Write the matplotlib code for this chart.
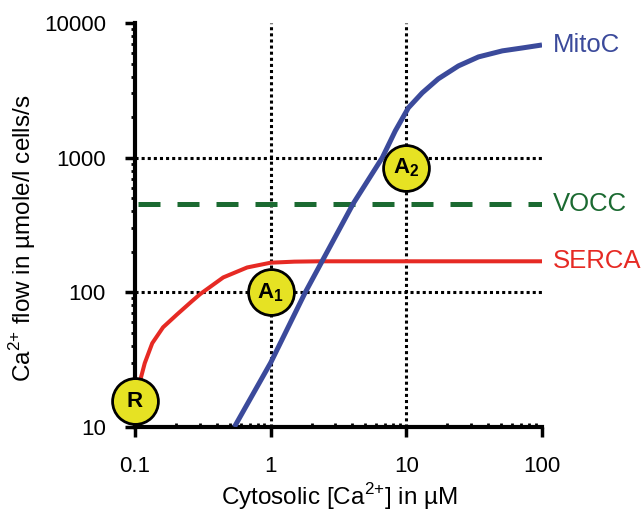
import matplotlib
matplotlib.use("Agg")
import matplotlib.pyplot as plt
from matplotlib.ticker import FixedLocator, LogLocator, NullFormatter

plt.rcParams['font.family'] = ['Liberation Sans', 'DejaVu Sans']
plt.rcParams['mathtext.fontset'] = 'custom'
plt.rcParams['mathtext.rm'] = 'Liberation Sans'
plt.rcParams['mathtext.bf'] = 'Liberation Sans:bold'

# values (log-log)
serca_x = [0.1, 0.109, 0.118, 0.134, 0.161, 0.204, 0.263, 0.302, 0.447, 0.671, 1.0, 1.5, 2.3, 5, 10, 30, 100]
serca_y = [16, 22, 29.8, 41.9, 55, 68.5, 86, 97, 129, 153, 166, 169, 170, 170, 170, 170, 170]

mito_x = [0.54, 1.0, 1.8, 4.06, 6.65, 8.3, 10.35, 13.1, 17.2, 24.2, 34, 51, 71.8, 100]
mito_y = [10, 30, 100, 456, 1000, 1585, 2345, 3030, 3850, 4800, 5600, 6210, 6530, 6870]

vocc_x = [0.105, 100]
vocc_y = [456, 456]

point_names = ['R', r'A$_\mathbf{1}$', r'A$_\mathbf{2}$']
point_x = [0.1, 1, 10]
point_y = [15.5, 100, 843]

x_ticks = [0.1, 1, 10, 100]
x_tick_labels = ['0.1', '1', '10', '100']
y_ticks = [10, 100, 1000, 10000]
y_tick_labels = ['10', '100', '1000', '10000']
grid_x = [1, 10]
grid_y = [100, 1000]

red = '#E62A24'
blue = '#3B4A9B'
green = '#1B6A31'
yellow = '#E6E223'

fig = plt.figure(figsize=(6.43, 5.13), dpi=100)
ax = fig.add_axes([135 / 643, 86 / 513, 407 / 643, 404 / 513])
ax.set_xscale('log')
ax.set_yscale('log')
ax.set_xlim(0.1, 100)
ax.set_ylim(10, 10000)

for gx in grid_x:
    ax.plot([gx, gx], [10, 10000], color='black', lw=2.2, ls=(0, (1, 1)), zorder=1)
for gy in grid_y:
    ax.plot([0.1, 100], [gy, gy], color='black', lw=2.2, ls=(0, (1, 1)), zorder=1)

ax.plot(vocc_x, vocc_y, color=green, lw=3.6, ls=(0, (4.4, 3.4)), zorder=2)
ax.plot(serca_x, serca_y, color=red, lw=2.9, zorder=3, solid_capstyle='butt', solid_joinstyle='round')
ax.plot(mito_x, mito_y, color=blue, lw=3.6, zorder=3, solid_capstyle='butt', solid_joinstyle='round')

ax.plot(point_x, point_y, 'o', ms=33, mfc=yellow, mec='black', mew=2, zorder=5, clip_on=False)
for name, px, py in zip(point_names, point_x, point_y):
    ax.text(px, py, name, ha='center', va='center', fontsize=16, fontweight='bold',
            zorder=6, clip_on=False)

ax.annotate('MitoC', (100, mito_y[-1]), xytext=(8, 0), textcoords='offset points',
            color=blue, fontsize=18.5, va='center', annotation_clip=False)
ax.annotate('VOCC', (100, vocc_y[-1]), xytext=(8, 0), textcoords='offset points',
            color=green, fontsize=18.5, va='center', annotation_clip=False)
ax.annotate('SERCA', (100, serca_y[-1]), xytext=(8, 0), textcoords='offset points',
            color=red, fontsize=18.5, va='center', annotation_clip=False)

for side in ['top', 'right']:
    ax.spines[side].set_visible(False)
for side in ['left', 'bottom']:
    ax.spines[side].set_linewidth(3)

ax.xaxis.set_major_locator(FixedLocator(x_ticks))
ax.set_xticklabels(x_tick_labels)
ax.yaxis.set_major_locator(FixedLocator(y_ticks))
ax.set_yticklabels(y_tick_labels)
ax.xaxis.set_minor_locator(LogLocator(base=10, subs=range(2, 10)))
ax.yaxis.set_minor_locator(LogLocator(base=10, subs=range(2, 10)))
ax.xaxis.set_minor_formatter(NullFormatter())
ax.yaxis.set_minor_formatter(NullFormatter())
ax.tick_params(which='major', direction='out', length=7, width=2.5, labelsize=16, pad=14)
ax.tick_params(axis='x', which='minor', direction='in', length=3, width=2)
ax.tick_params(axis='y', which='minor', direction='out', length=3, width=2)

ax.set_xlabel('Cytosolic [Ca$^{2{+}}$] in µM', fontsize=17.5)
ax.set_ylabel('Ca$^{2{+}}$ flow in µmole/l cells/s', fontsize=17.5)
ax.xaxis.set_label_coords(0.501, -0.134)
ax.yaxis.set_label_coords(-0.238, 0.468)

fig.savefig('out.png', dpi=100)
